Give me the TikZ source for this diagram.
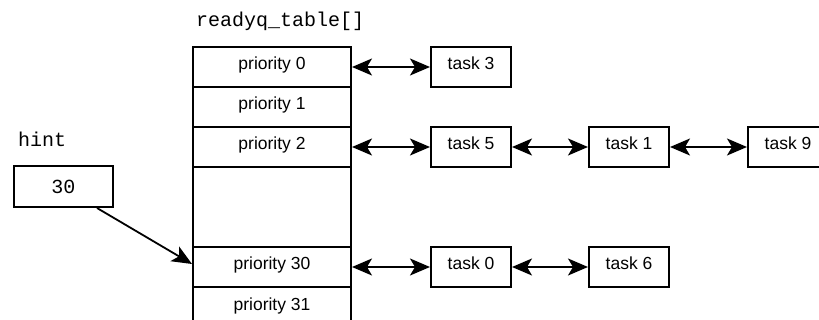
\documentclass[tikz,border=0pt]{standalone}
\usepackage{fontspec}
\setmainfont{Liberation Sans}
\setmonofont{Liberation Mono}
\usetikzlibrary{arrows.meta}
\begin{document}
\begin{tikzpicture}[x=1pt,y=-1pt,
  cell/.style={draw,line width=2pt,minimum width=158pt,minimum height=40pt,
    inner sep=0pt,anchor=north west,font=\fontsize{17.5}{20}\selectfont,
    text height=6pt,text depth=0pt},
  taskbox/.style={cell,minimum width=80pt},
  link/.style={line width=1.8pt,{Stealth[length=20pt,width=17pt,inset=5pt]}-{Stealth[length=20pt,width=17pt,inset=5pt]}},
  pointer/.style={line width=1.8pt,-{Stealth[length=20pt,width=17pt,inset=5pt]}},
  code/.style={font=\ttfamily\fontsize{20}{24}\selectfont,inner sep=0pt,anchor=base west}]
\useasboundingbox (0,0) rectangle (819,320);
\clip (0,0) rectangle (819,320);

% ready-queue table
\node[code] (tablename) at (196,27) {readyq\_table[]};
\node[cell] (p0) at (192,46) {priority 0};
\node[cell] (p1) at (192,86) {priority 1};
\node[cell] (p2) at (192,126) {priority 2};
\node[cell,minimum height=80pt] (gap) at (192,166) {};
\node[cell] (p30) at (192,246) {priority 30};
\node[cell] (p31) at (192,286) {priority 31};

% tasks queued per priority
\node[taskbox] (t3) at (430,46) {task 3};
\node[taskbox] (t5) at (430,126) {task 5};
\node[taskbox] (t1) at (588,126) {task 1};
\node[taskbox] (t9) at (747,126) {task 9};
\node[taskbox] (t0) at (430,246) {task 0};
\node[taskbox] (t6) at (588,246) {task 6};

\draw[link] (p0.east) -- (t3.west);
\draw[link] (p2.east) -- (t5.west);
\draw[link] (t5.east) -- (t1.west);
\draw[link] (t1.east) -- (t9.west);
\draw[link] (p30.east) -- (t0.west);
\draw[link] (t0.east) -- (t6.west);

% hint variable
\node[code] (hintlabel) at (18,147) {hint};
\node[draw,line width=2pt,minimum width=99pt,minimum height=41pt,inner sep=0pt,
  anchor=north west,font=\ttfamily\fontsize{20}{24}\selectfont,
  text height=15pt,text depth=0pt] (hint) at (13,165) {30};
\draw[pointer] ([xshift=-17pt]hint.south east) -- ([yshift=3pt]p30.west);
\end{tikzpicture}
\end{document}
